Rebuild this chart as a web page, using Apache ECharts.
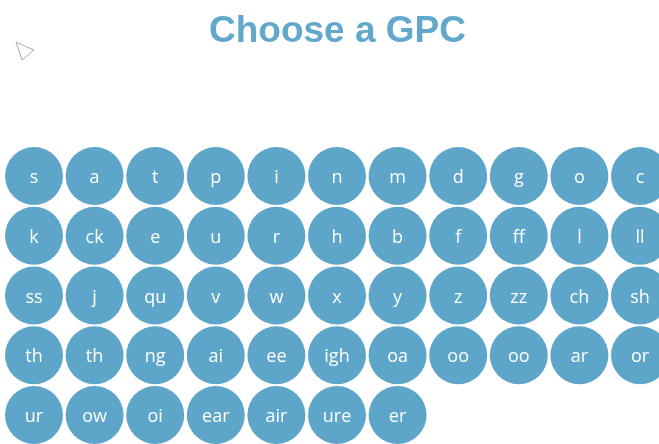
<!DOCTYPE html>
<html>
<head>
<meta charset="utf-8">
<script src="https://cdn.jsdelivr.net/npm/echarts@6/dist/echarts.min.js"></script>
<style>
  html, body { margin: 0; padding: 0; background: #fff; }
  #chart { width: 659px; height: 444px; }
</style>
</head>
<body>
<div id="chart"></div>
<script>
// grapheme-phoneme correspondences, read row by row
const gpcs = [
  's', 'a', 't', 'p', 'i', 'n', 'm', 'd', 'g', 'o', 'c',
  'k', 'ck', 'e', 'u', 'r', 'h', 'b', 'f', 'ff', 'l', 'll',
  'ss', 'j', 'qu', 'v', 'w', 'x', 'y', 'z', 'zz', 'ch', 'sh',
  'th', 'th', 'ng', 'ai', 'ee', 'igh', 'oa', 'oo', 'oo', 'ar', 'or',
  'ur', 'ow', 'oi', 'ear', 'air', 'ure', 'er'
]
const perRow = 11

const chart = echarts.init(document.getElementById('chart'))

const points = gpcs.map((g, i) => ({
  value: [i % perRow, Math.floor(i / perRow)],
  name: g
}))

chart.setOption({
  animation: false,
  title: {
    text: 'Choose a GPC',
    left: 204,
    top: 8,
    textStyle: {
      color: '#62a8cb',
      fontFamily: 'Liberation Sans',
      fontWeight: 'bold',
      fontSize: 37
    }
  },
  grid: { left: 34, right: 19, top: 176, bottom: 29 },
  xAxis: { type: 'value', min: 0, max: perRow - 1, show: false },
  yAxis: { type: 'value', min: 0, max: 4, inverse: true, show: false },
  graphic: [{
    type: 'polygon',
    shape: { points: [[16, 42], [34, 50], [22, 60]] },
    style: { fill: '#fff', stroke: '#aaa', lineWidth: 1 }
  }],
  series: [{
    type: 'scatter',
    data: points,
    symbol: 'circle',
    symbolSize: 58,
    itemStyle: { color: '#5ea6c9', opacity: 1 },
    label: {
      show: true,
      position: 'inside',
      offset: [0, 2],
      formatter: p => p.name,
      color: '#fff',
      fontFamily: 'Open Sans',
      fontSize: 18
    }
  }]
})
</script>
</body>
</html>
